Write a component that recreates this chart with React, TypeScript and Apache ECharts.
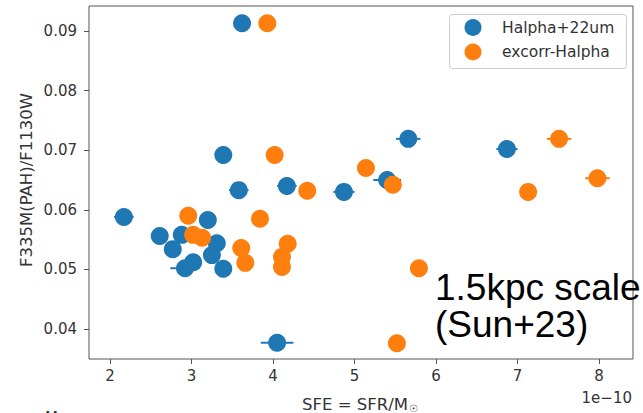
import React, { useEffect, useRef } from "react";
import * as echarts from "echarts";

// SFE (units of 1e-10) vs F335M(PAH)/F1130W ratio, two SFR tracers
const blueName = "Halpha+22um";
const blueX = [3.62, 3.39, 3.58, 4.17, 4.87, 5.4, 5.66, 6.87, 2.17, 3.2, 2.61, 2.88, 2.77, 3.31, 3.25, 3.02, 2.92, 3.39, 4.05];
const blueY = [0.0913, 0.0692, 0.0633, 0.064, 0.063, 0.065, 0.0719, 0.0702, 0.0588, 0.0583, 0.0556, 0.0558, 0.0534, 0.0544, 0.0524, 0.0512, 0.0502, 0.0501, 0.0377];
const blueErr = [0.06, 0.06, 0.12, 0.12, 0.13, 0.17, 0.15, 0.13, 0.12, 0.06, 0.06, 0.06, 0.06, 0.06, 0.06, 0.08, 0.18, 0.06, 0.2];

const orangeName = "excorr-Halpha";
const orangeX = [3.93, 4.02, 5.14, 5.47, 4.42, 3.84, 2.96, 3.02, 3.13, 3.61, 3.66, 4.18, 4.11, 4.11, 5.79, 5.52, 7.51, 7.13, 7.98];
const orangeY = [0.0913, 0.0692, 0.067, 0.0642, 0.0632, 0.0585, 0.059, 0.0558, 0.0553, 0.0536, 0.0511, 0.0543, 0.0521, 0.0504, 0.0502, 0.0376, 0.0719, 0.063, 0.0653];
const orangeErr = [0.06, 0.06, 0.06, 0.06, 0.06, 0.06, 0.06, 0.06, 0.06, 0.06, 0.06, 0.06, 0.06, 0.06, 0.06, 0.06, 0.15, 0.08, 0.15];

const xTicks = [2, 3, 4, 5, 6, 7, 8];
const yTicks = [0.04, 0.05, 0.06, 0.07, 0.08, 0.09];

const BLUE = "#1f77b4";
const ORANGE = "#ff7f0e";
const FONT = "DejaVu Sans";
const TEXT = "#333";

function points(xs: number[], ys: number[], es: number[]) {
  return xs.map((x, i) => [x, ys[i], es[i]]);
}

function errorSeries(name: string, color: string, data: number[][]) {
  return {
    type: "custom",
    name: name + " err",
    data,
    encode: { x: 0, y: 1 },
    silent: true,
    renderItem: (_params: any, api: any) => {
      const x = api.value(0);
      const y = api.value(1);
      const e = api.value(2);
      const a = api.coord([x - e, y]);
      const b = api.coord([x + e, y]);
      return {
        type: "line",
        shape: { x1: a[0], y1: a[1], x2: b[0], y2: b[1] },
        style: { stroke: color, lineWidth: 2 },
      };
    },
  };
}

function markerSeries(name: string, color: string, data: number[][]) {
  return {
    type: "scatter",
    name,
    data: data.map((d) => [d[0], d[1]]),
    symbol: "circle",
    symbolSize: 18,
    itemStyle: { color, opacity: 1 },
  };
}

// legend box drawn as plain graphics (frame, two markers, two labels)
function legendGraphics() {
  const entries = [
    { name: blueName, color: BLUE, y: 27.5 },
    { name: orangeName, color: ORANGE, y: 52 },
  ];
  const items: any[] = [
    {
      type: "rect",
      z: 50,
      shape: { x: 449.5, y: 14.5, width: 177, height: 54, r: 3 },
      style: { fill: "rgba(255,255,255,0.85)", stroke: "#cccccc", lineWidth: 1 },
    },
  ];
  entries.forEach((e) => {
    items.push({
      type: "circle",
      z: 51,
      shape: { cx: 473, cy: e.y, r: 8.5 },
      style: { fill: e.color },
    });
    items.push({
      type: "text",
      z: 51,
      x: 502,
      y: e.y,
      style: {
        text: e.name,
        fill: TEXT,
        font: `15.5px "${FONT}"`,
        align: "left",
        verticalAlign: "middle",
      },
    });
  });
  return items;
}

export default function App() {
  const ref = useRef<HTMLDivElement>(null);

  useEffect(() => {
    if (!ref.current) return;
    const chart = echarts.init(ref.current, undefined, { renderer: "svg" });
    const blue = points(blueX, blueY, blueErr);
    const orange = points(orangeX, orangeY, orangeErr);

    chart.setOption({
      animation: false,
      backgroundColor: "#ffffff",
      grid: {
        left: 89,
        top: 6,
        right: 10,
        bottom: 54,
        show: true,
        borderColor: "#555",
        borderWidth: 1,
        backgroundColor: "transparent",
      },
      xAxis: {
        type: "value",
        min: 1.742,
        max: 8.417,
        axisLine: { show: false },
        splitLine: { show: false },
        axisTick: {
          show: true,
          length: 5,
          lineStyle: { color: "#555" },
          customValues: xTicks,
        },
        axisLabel: {
          color: TEXT,
          fontFamily: FONT,
          fontSize: 15,
          margin: 9,
          customValues: xTicks,
        },
      },
      yAxis: {
        type: "value",
        min: 0.03497,
        max: 0.09419,
        axisLine: { show: false },
        splitLine: { show: false },
        axisTick: {
          show: true,
          length: 5,
          lineStyle: { color: "#555" },
          customValues: yTicks,
        },
        axisLabel: {
          color: TEXT,
          fontFamily: FONT,
          fontSize: 15,
          margin: 12,
          customValues: yTicks,
          formatter: (v: number) => v.toFixed(2),
        },
      },
      graphic: [
        ...legendGraphics(),
        {
          type: "text",
          x: 26,
          y: 180,
          rotation: Math.PI / 2,
          style: {
            text: "F335M(PAH)/F1130W",
            fill: TEXT,
            font: `16.5px "${FONT}"`,
            align: "center",
            verticalAlign: "middle",
          },
        },
        {
          type: "text",
          x: 360,
          y: 404,
          style: {
            text: "{m|SFE = SFR/M}{s|☉}",
            align: "center",
            verticalAlign: "middle",
            rich: {
              m: { fill: TEXT, font: `16.5px "${FONT}"` },
              s: { fill: TEXT, font: `10px "${FONT}"`, padding: [8, 0, 0, 1] },
            },
          },
        },
        {
          type: "text",
          x: 632,
          y: 398,
          style: {
            text: "1e\u221210",
            fill: TEXT,
            font: `15px "${FONT}"`,
            align: "right",
            verticalAlign: "middle",
          },
        },
        {
          type: "text",
          x: 45,
          y: 410,
          style: {
            text: "M",
            fill: TEXT,
            font: `15px "${FONT}"`,
            align: "left",
            verticalAlign: "top",
          },
        },
        {
          type: "text",
          x: 435,
          y: 287,
          z: 100,
          style: {
            text: "1.5kpc scale",
            fill: "#000",
            font: `37px "Liberation Sans"`,
            align: "left",
            verticalAlign: "middle",
          },
        },
        {
          type: "text",
          x: 435,
          y: 324,
          z: 100,
          style: {
            text: "(Sun+23)",
            fill: "#000",
            font: `37px "Liberation Sans"`,
            align: "left",
            verticalAlign: "middle",
          },
        },
      ],
      series: [
        errorSeries(blueName, BLUE, blue),
        markerSeries(blueName, BLUE, blue),
        errorSeries(orangeName, ORANGE, orange),
        markerSeries(orangeName, ORANGE, orange),
      ],
    });

    return () => chart.dispose();
  }, []);

  return (
    <div
      ref={ref}
      style={{ position: "fixed", left: 0, top: 0, width: 643, height: 413 }}
    />
  );
}
